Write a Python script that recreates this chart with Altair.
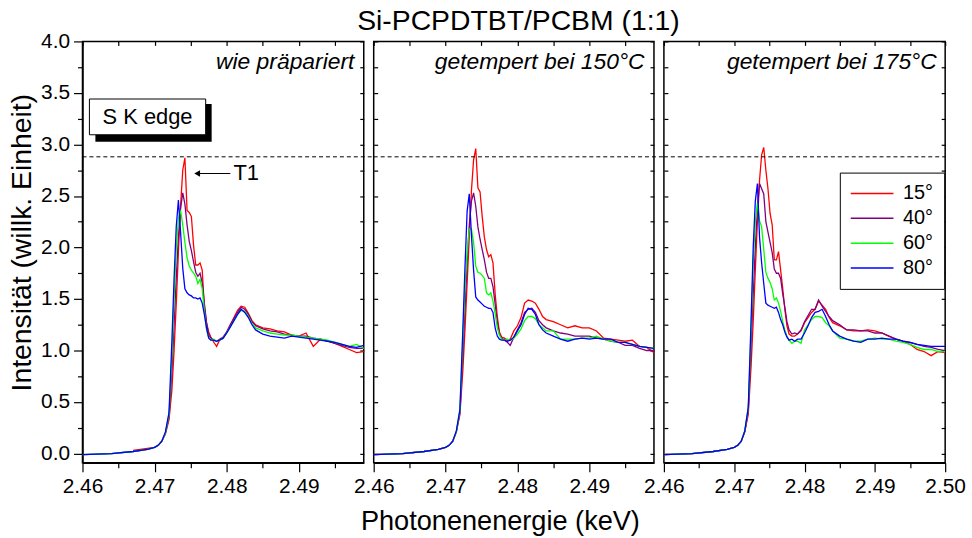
import altair as alt
import pandas as pd

FONT = "Liberation Sans"

# ---------------- data ----------------
energy = [2.4600, 2.4640, 2.4670, 2.4690, 2.4700, 2.4705, 2.4710, 2.4715,
          2.4720, 2.4724, 2.4727, 2.4730, 2.4733, 2.4736, 2.4739, 2.4742, 2.4745, 2.4748,
          2.4751, 2.4754, 2.4757, 2.4760, 2.4763, 2.4766, 2.4769, 2.4772, 2.4775, 2.4778,
          2.4782, 2.4786, 2.4790, 2.4795, 2.4800, 2.4805, 2.4810, 2.4815, 2.4820, 2.4825,
          2.4830, 2.4835, 2.4840, 2.4850, 2.4860, 2.4870, 2.4880, 2.4890, 2.4900, 2.4910,
          2.4920, 2.4930, 2.4940, 2.4950, 2.4960, 2.4970, 2.4980, 2.4990, 2.5000]

angles = ["15°", "40°", "60°", "80°"]
colors = ["#ff0000", "#800080", "#00ff00", "#0000ff"]
panel_titles = ["wie präpariert", "getempert bei 150°C", "getempert bei 175°C"]

# panel 1: wie präpariert
p1_15 = [None, None, 0.03, 0.05, 0.06, 0.08, 0.12, 0.19,
         0.33, 0.62, 1.00, 1.45, 1.95, 2.40, 2.75, 2.87, 2.36, 2.34,
         2.30, 2.02, 1.83, 1.83, 1.85, 1.78, 1.42, 1.27, 1.18, 1.13,
         1.08, 1.04, 1.10, 1.12, 1.18, 1.25, 1.32, 1.39, 1.43, 1.42,
         1.36, 1.29, 1.25, 1.22, 1.21, 1.19, 1.18, 1.15, 1.14, 1.17,
         1.04, 1.11, 1.09, 1.07, 1.04, 1.01, 0.98, 0.99, 0.99]
p1_40 = [-0.01, 0.00, 0.02, 0.04, 0.06, 0.08, 0.12, 0.20,
         0.36, 0.80, 1.25, 1.70, 2.10, 2.38, 2.53, 2.42, 2.22, 2.06,
         1.97, 1.86, 1.76, 1.72, 1.75, 1.66, 1.46, 1.27, 1.15, 1.12,
         1.10, 1.09, 1.11, 1.13, 1.18, 1.25, 1.31, 1.37, 1.42, 1.40,
         1.35, 1.28, 1.24, 1.21, 1.19, 1.18, 1.16, 1.15, 1.14, 1.14,
         1.12, 1.11, 1.09, 1.07, 1.05, 1.03, 1.02, 1.02, 1.02]
p1_60 = [-0.01, 0.00, 0.02, 0.04, 0.06, 0.08, 0.12, 0.20,
         0.38, 0.95, 1.50, 1.98, 2.28, 2.36, 2.22, 2.05, 1.90, 1.82,
         1.78, 1.75, 1.72, 1.65, 1.69, 1.60, 1.38, 1.20, 1.13, 1.10,
         1.11, 1.09, 1.10, 1.12, 1.17, 1.23, 1.29, 1.35, 1.39, 1.38,
         1.33, 1.26, 1.22, 1.19, 1.17, 1.16, 1.15, 1.15, 1.14, 1.13,
         1.12, 1.11, 1.10, 1.08, 1.06, 1.04, 1.06, 1.02, 1.02]
p1_80 = [-0.01, 0.00, 0.02, 0.04, 0.06, 0.08, 0.12, 0.21,
         0.40, 1.10, 1.70, 2.20, 2.46, 2.15, 1.80, 1.60, 1.56, 1.54,
         1.53, 1.51, 1.51, 1.50, 1.51, 1.46, 1.35, 1.22, 1.12, 1.10,
         1.10, 1.09, 1.10, 1.12, 1.17, 1.23, 1.29, 1.35, 1.40, 1.37,
         1.32, 1.25, 1.20, 1.16, 1.14, 1.13, 1.12, 1.14, 1.13, 1.12,
         1.11, 1.10, 1.09, 1.08, 1.06, 1.04, 1.03, 1.05, 1.05]

# panel 2: getempert bei 150 °C
p2_15 = [-0.01, 0.00, 0.02, 0.04, 0.06, 0.08, 0.12, 0.21,
         0.38, 0.80, 1.20, 1.65, 2.10, 2.55, 2.85, 2.96, 2.58, 2.54,
         2.30, 2.10, 1.98, 1.91, 1.93, 1.85, 1.55, 1.33, 1.18, 1.13,
         1.12, 1.10, 1.11, 1.19, 1.24, 1.32, 1.46, 1.49, 1.48, 1.46,
         1.40, 1.33, 1.30, 1.28, 1.25, 1.22, 1.24, 1.22, 1.22, 1.19,
         1.12, 1.11, 1.10, 1.09, 1.10, 1.04, 1.03, 0.98, 0.98]
p2_40 = [-0.01, 0.00, 0.02, 0.04, 0.06, 0.08, 0.12, 0.21,
         0.40, 0.95, 1.40, 1.85, 2.22, 2.45, 2.53, 2.40, 2.20, 2.08,
         1.98, 1.88, 1.76, 1.70, 1.70, 1.62, 1.45, 1.28, 1.16, 1.12,
         1.10, 1.08, 1.05, 1.13, 1.20, 1.27, 1.37, 1.40, 1.41, 1.37,
         1.29, 1.25, 1.22, 1.19, 1.17, 1.16, 1.14, 1.14, 1.14, 1.12,
         1.11, 1.09, 1.08, 1.05, 1.05, 1.02, 1.00, 1.00, 0.99]
p2_60 = [-0.01, 0.00, 0.02, 0.04, 0.06, 0.08, 0.12, 0.21,
         0.42, 1.10, 1.60, 1.95, 2.18, 2.18, 2.05, 1.82, 1.76, 1.75,
         1.73, 1.70, 1.56, 1.54, 1.56, 1.48, 1.36, 1.22, 1.15, 1.11,
         1.10, 1.11, 1.10, 1.12, 1.16, 1.21, 1.29, 1.33, 1.33, 1.31,
         1.25, 1.22, 1.19, 1.19, 1.11, 1.11, 1.11, 1.12, 1.12, 1.14,
         1.11, 1.09, 1.08, 1.08, 1.06, 1.04, 1.03, 1.02, 1.02]
p2_80 = [-0.01, 0.00, 0.02, 0.04, 0.06, 0.08, 0.12, 0.22,
         0.43, 1.20, 1.80, 2.35, 2.52, 2.12, 1.78, 1.52, 1.49, 1.47,
         1.45, 1.43, 1.42, 1.41, 1.41, 1.37, 1.22, 1.14, 1.11, 1.10,
         1.10, 1.09, 1.10, 1.13, 1.19, 1.25, 1.35, 1.41, 1.40, 1.35,
         1.25, 1.20, 1.17, 1.14, 1.11, 1.09, 1.11, 1.12, 1.11, 1.12,
         1.11, 1.11, 1.08, 1.08, 1.06, 1.04, 1.03, 1.02, 1.02]

# panel 3: getempert bei 175 °C
p3_15 = [-0.01, 0.00, 0.02, 0.04, 0.06, 0.08, 0.12, 0.21,
         0.38, 0.85, 1.28, 1.78, 2.25, 2.65, 2.90, 2.97, 2.75, 2.57,
         2.33, 2.22, 1.88, 1.88, 1.96, 1.78, 1.60, 1.40, 1.24, 1.16,
         1.14, 1.14, 1.16, 1.19, 1.27, 1.32, 1.37, 1.40, 1.48, 1.44,
         1.40, 1.32, 1.27, 1.24, 1.20, 1.19, 1.19, 1.20, 1.19, 1.17,
         1.14, 1.11, 1.09, 1.06, 1.01, 0.99, 0.95, 0.99, 0.98]
p3_40 = [-0.01, 0.00, 0.02, 0.04, 0.06, 0.08, 0.12, 0.21,
         0.42, 1.05, 1.55, 2.00, 2.38, 2.62, 2.57, 2.52, 2.25, 2.15,
         2.05, 1.95, 1.79, 1.75, 1.75, 1.70, 1.55, 1.42, 1.28, 1.20,
         1.16, 1.17, 1.16, 1.20, 1.28, 1.34, 1.40, 1.40, 1.49, 1.43,
         1.38, 1.33, 1.29, 1.25, 1.20, 1.20, 1.19, 1.19, 1.17, 1.17,
         1.14, 1.11, 1.09, 1.08, 1.06, 1.04, 1.03, 1.01, 1.00]
p3_60 = [-0.01, 0.00, 0.02, 0.04, 0.06, 0.08, 0.12, 0.22,
         0.44, 1.20, 1.85, 2.25, 2.43, 2.26, 2.20, 1.98, 1.76, 1.70,
         1.66, 1.60, 1.49, 1.51, 1.46, 1.38, 1.28, 1.20, 1.14, 1.10,
         1.07, 1.09, 1.09, 1.07, 1.20, 1.25, 1.30, 1.33, 1.33, 1.32,
         1.27, 1.24, 1.19, 1.12, 1.11, 1.09, 1.09, 1.11, 1.12, 1.11,
         1.11, 1.09, 1.08, 1.06, 1.03, 1.01, 1.01, 0.99, 0.99]
p3_80 = [-0.01, 0.00, 0.02, 0.04, 0.06, 0.08, 0.12, 0.22,
         0.45, 1.30, 2.00, 2.45, 2.62, 2.10, 1.85, 1.65, 1.46, 1.44,
         1.43, 1.42, 1.41, 1.42, 1.37, 1.30, 1.25, 1.18, 1.13, 1.10,
         1.11, 1.09, 1.11, 1.11, 1.17, 1.24, 1.32, 1.37, 1.38, 1.40,
         1.33, 1.25, 1.19, 1.14, 1.11, 1.09, 1.08, 1.11, 1.11, 1.12,
         1.11, 1.11, 1.09, 1.08, 1.06, 1.05, 1.04, 1.04, 1.04]

series = [[p1_15, p1_40, p1_60, p1_80],
          [p2_15, p2_40, p2_60, p2_80],
          [p3_15, p3_40, p3_60, p3_80]]

# axis extents and ticks
x_min = 2.46
x_max = [2.499, 2.499, 2.500]
x_ticks_short = [2.460, 2.465, 2.470, 2.475, 2.480, 2.485, 2.490, 2.495]
x_ticks_long = [2.460, 2.465, 2.470, 2.475, 2.480, 2.485, 2.490, 2.495, 2.500]
y_ticks = [0.0, 0.25, 0.5, 0.75, 1.0, 1.25, 1.5, 1.75, 2.0, 2.25, 2.5, 2.75,
           3.0, 3.25, 3.5, 3.75, 4.0]
y_domain = [-0.09, 4.0]

# annotations (data coordinates)
ref_level = 2.88
label_x = [2.4977, 2.4977, 2.4988]
label_y = 3.80
skedge_box = {"x": [2.46096], "x2": [2.47708], "y": [3.094], "y2": [3.441]}
skedge_shadow = {"x": [2.46179], "x2": [2.47791], "y": [3.027], "y2": [3.393]}
skedge_text = {"x": [2.46902], "y": [3.262], "t": ["S K edge"]}
t1_line = {"x": [2.4758], "x2": [2.4805], "y": [2.718]}
t1_head = {"x": [2.4759], "y": [2.718]}
t1_text = {"x": [2.48094], "y": [2.718], "t": ["T1"]}

X_MAJOR = "round(datum.value*1000) % 10 == 0"
Y_MAJOR = "round(datum.value*100) % 50 == 0"


def panel(i):
    rows = []
    for a, vals in zip(angles, series[i]):
        for e, v in zip(energy, vals):
            rows.append({"energy": e, "intensity": v, "angle": a})
    df = pd.DataFrame(rows)

    xs = alt.Scale(domain=[x_min, x_max[i]], nice=False, zero=False)
    ys = alt.Scale(domain=y_domain, nice=False, zero=False)
    xt = x_ticks_long if i == 2 else x_ticks_short

    if i == 1:
        x_axis = alt.Axis(values=xt, labelExpr=f"({X_MAJOR}) ? format(datum.value, '.2f') : ''",
                          tickSize={"condition": {"test": X_MAJOR, "value": 9}, "value": 5},
                          labelPadding=4, labelFlush=False, labelOverlap=False,
                          title="Photonenenergie (keV)", titlePadding=11,
                          titleFontSize=27.3, titleX=127)
    else:
        x_axis = alt.Axis(values=xt, labelExpr=f"({X_MAJOR}) ? format(datum.value, '.2f') : ''",
                          tickSize={"condition": {"test": X_MAJOR, "value": 9}, "value": 5},
                          labelPadding=4, labelFlush=False, labelOverlap=False, title=None)
    if i == 0:
        y_axis = alt.Axis(values=y_ticks, labelExpr=f"({Y_MAJOR}) ? format(datum.value, '.1f') : ''",
                          tickSize={"condition": {"test": Y_MAJOR, "value": 9}, "value": 5},
                          labelPadding=4, labelOverlap=False, labelFlush=False,
                          title="Intensität (willk. Einheit)", titlePadding=4,
                          titleFontSize=28.5, titleY=202)
    else:
        y_axis = alt.Axis(values=y_ticks, labels=False, tickSize=4, offset=-4,
                          domain=False, title=None)

    legend = alt.Legend(orient="none", legendX=762, legendY=132, title=None,
                        symbolType="M-4.3,0L4.3,0", symbolSize=100, symbolStrokeWidth=1.5,
                        symbolOffset=11.5, labelFontSize=20, labelFont=FONT,
                        labelColor="black", labelOffset=21, strokeColor="black",
                        fillColor="white", padding=11, rowPadding=5, columnPadding=0,
                        columns=1, cornerRadius=0)

    lines = alt.Chart(df).mark_line(strokeWidth=1.3, clip=True).encode(
        x=alt.X("energy:Q", scale=xs, axis=x_axis),
        y=alt.Y("intensity:Q", scale=ys, axis=y_axis),
        color=alt.Color("angle:N", scale=alt.Scale(domain=angles, range=colors),
                        legend=legend),
    )

    mirror = alt.Chart(df).mark_line(opacity=0, clip=True).encode(
        x=alt.X("energy:Q", scale=xs,
                axis=alt.Axis(orient="top", values=xt, labels=False, tickSize=4,
                              offset=-4, domain=False, title=None)),
        y=alt.Y("intensity:Q", scale=ys,
                axis=alt.Axis(orient="right", values=y_ticks, labels=False, tickSize=4,
                              offset=-4, domain=False, title=None)),
    )

    dash_end = x_max[i] + (0.00138 if i < 2 else 0.0)
    dash = alt.Chart(pd.DataFrame({"x": [x_min], "x2": [dash_end], "y": [ref_level]})).mark_rule(
        color="black", strokeWidth=1, strokeDash=[4, 3], clip=False
    ).encode(
        x=alt.X("x:Q", scale=xs, axis=None), x2="x2:Q",
        y=alt.Y("y:Q", scale=ys, axis=None),
    )

    label = alt.Chart(pd.DataFrame({"x": [label_x[i]], "y": [label_y], "t": [panel_titles[i]]})).mark_text(
        align="right", baseline="middle", font=FONT, fontSize=23, fontStyle="italic",
        color="black"
    ).encode(
        x=alt.X("x:Q", scale=xs, axis=None), y=alt.Y("y:Q", scale=ys, axis=None), text="t:N"
    )

    layers = [lines, mirror, dash, label]

    if i == 0:
        shadow = alt.Chart(pd.DataFrame(skedge_shadow)).mark_rect(color="black").encode(
            x=alt.X("x:Q", scale=xs, axis=None), x2="x2:Q",
            y=alt.Y("y:Q", scale=ys, axis=None), y2="y2:Q")
        box = alt.Chart(pd.DataFrame(skedge_box)).mark_rect(
            fill="white", stroke="black", strokeWidth=1).encode(
            x=alt.X("x:Q", scale=xs, axis=None), x2="x2:Q",
            y=alt.Y("y:Q", scale=ys, axis=None), y2="y2:Q")
        btxt = alt.Chart(pd.DataFrame(skedge_text)).mark_text(
            align="center", baseline="middle", font=FONT, fontSize=22, color="black").encode(
            x=alt.X("x:Q", scale=xs, axis=None), y=alt.Y("y:Q", scale=ys, axis=None), text="t:N")
        arr = alt.Chart(pd.DataFrame(t1_line)).mark_rule(color="black", strokeWidth=1).encode(
            x=alt.X("x:Q", scale=xs, axis=None), x2="x2:Q",
            y=alt.Y("y:Q", scale=ys, axis=None))
        head = alt.Chart(pd.DataFrame(t1_head)).mark_point(
            shape="triangle-left", filled=True, size=45, color="black", opacity=1).encode(
            x=alt.X("x:Q", scale=xs, axis=None), y=alt.Y("y:Q", scale=ys, axis=None))
        ttxt = alt.Chart(pd.DataFrame(t1_text)).mark_text(
            align="left", baseline="middle", font=FONT, fontSize=22, color="black").encode(
            x=alt.X("x:Q", scale=xs, axis=None), y=alt.Y("y:Q", scale=ys, axis=None), text="t:N")
        layers += [shadow, box, btxt, arr, head, ttxt]

    w = [283, 282, 283][i]
    return alt.layer(*layers).resolve_axis(x="independent", y="independent").properties(
        width=w, height=424)


chart = alt.hconcat(
    panel(0), panel(1), panel(2), spacing=10, bounds="flush",
    title=alt.TitleParams("Si-PCPDTBT/PCBM (1:1)", font=FONT, fontSize=28.5,
                          fontWeight="normal", color="black", anchor="middle",
                          offset=-6, dx=32),
).resolve_scale(x="independent", y="independent", color="shared").properties(
    padding={"left": 7, "top": 5, "right": 5, "bottom": 5}
).configure_view(stroke="black", strokeWidth=1.5).configure_axis(
    grid=False, domainColor="black", domainWidth=1.5, tickColor="black", tickWidth=1.2,
    labelColor="black", titleColor="black", labelFont=FONT, titleFont=FONT,
    labelFontSize=21, titleFontSize=26, titleFontWeight="normal"
)

chart.save("out.html", embed_options={"renderer": "svg", "actions": False})
